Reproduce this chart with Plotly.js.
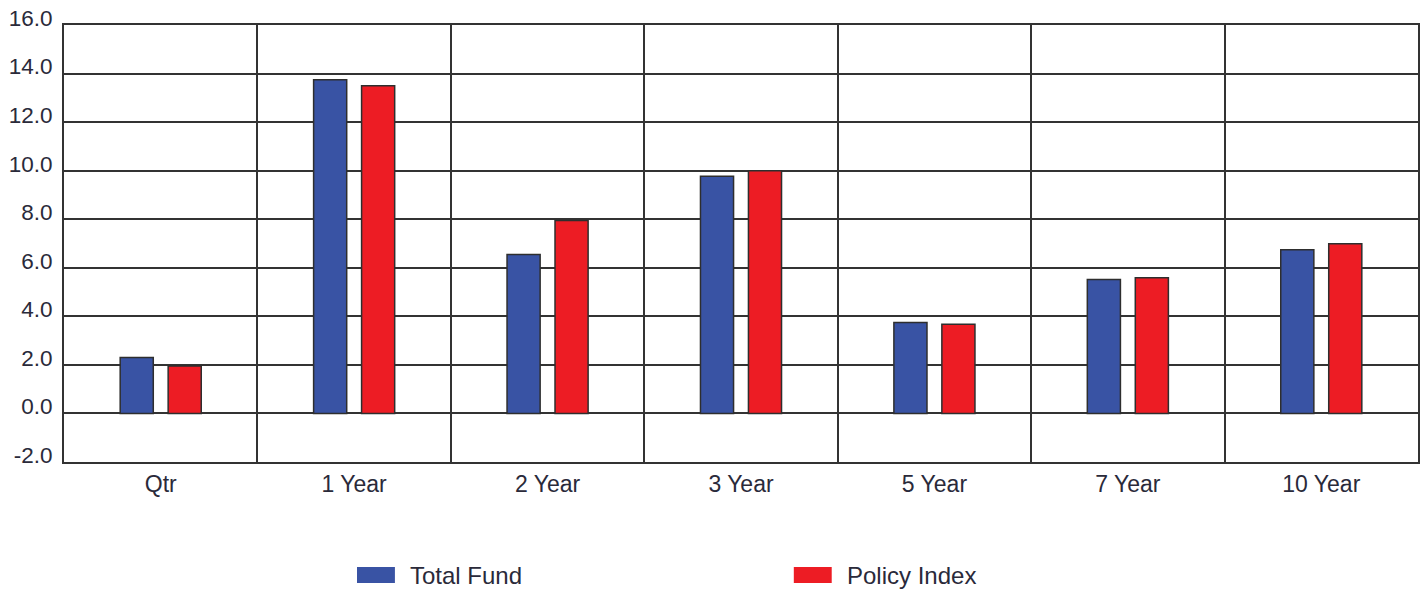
<!DOCTYPE html>
<html>
<head>
<meta charset="utf-8">
<script src="https://cdn.plot.ly/plotly-3.0.1.min.js"></script>
<style>html,body{margin:0;padding:0;background:#fff;}#chart{width:1425px;height:592px;}</style>
</head>
<body>
<div id="chart"></div>
<script>
const categories = ["Qtr", "1 Year", "2 Year", "3 Year", "5 Year", "7 Year", "10 Year"];
const seriesNames = ["Total Fund", "Policy Index"];
const totalFund = [2.3, 13.75, 6.55, 9.77, 3.75, 5.52, 6.74];
const policyIndex = [1.95, 13.5, 7.95, 10.0, 3.67, 5.59, 6.99];
const seriesColors = ["#3953a4", "#ed1c24"];
const yTickVals = [-2, 0, 2, 4, 6, 8, 10, 12, 14, 16];
const yTickText = yTickVals.map(v => v.toFixed(1));

const outline = {color: "#2e2e2e", width: 1.5};
const traces = [
  {type: "bar", x: categories, y: totalFund, name: seriesNames[0],
   marker: {color: seriesColors[0], line: outline}, showlegend: false},
  {type: "bar", x: categories, y: policyIndex, name: seriesNames[1],
   marker: {color: seriesColors[1], line: outline}, showlegend: false}
];

const fam = "Liberation Sans, Arial, sans-serif";
const txtColor = "#2a2a3a";
const xFont = {family: fam, size: 23, color: txtColor};
const yFont = {family: fam, size: 22.5, color: txtColor};
const legFont = {family: fam, size: 24, color: txtColor};

// legend drawn as swatches + labels in paper coordinates
const legendX = [0.2164, 0.539];
const shapes = [];
const annotations = [];
seriesNames.forEach((n, i) => {
  shapes.push({type: "rect", xref: "paper", yref: "paper",
    x0: legendX[i], x1: legendX[i] + 0.028, y0: -0.277, y1: -0.240,
    fillcolor: seriesColors[i], line: {width: 0}});
  annotations.push({xref: "paper", yref: "paper", x: legendX[i] + 0.038, y: -0.259,
    text: n, showarrow: false, xanchor: "left", yanchor: "middle", font: legFont});
});

const layout = {
  width: 1425, height: 592,
  margin: {l: 64, r: 7, t: 25, b: 130},
  paper_bgcolor: "#ffffff", plot_bgcolor: "#ffffff",
  barmode: "group", bargap: 0.504, bargroupgap: 0.31,
  font: xFont,
  xaxis: {type: "category", tickson: "boundaries", showgrid: true,
    gridcolor: "#333333", gridwidth: 2, ticks: "", showline: true, mirror: true,
    linecolor: "#333333", linewidth: 2, tickfont: xFont, ticklabelstandoff: 0,
    fixedrange: true},
  yaxis: {range: [-2, 16], tickvals: yTickVals, ticktext: yTickText, showgrid: true,
    gridcolor: "#333333", gridwidth: 2, zeroline: false, ticks: "",
    showline: true, mirror: true, linecolor: "#333333", linewidth: 2,
    tickfont: yFont, ticklabelshift: -7, ticklabelstandoff: 5, fixedrange: true},
  shapes: shapes, annotations: annotations, showlegend: false
};

Plotly.newPlot("chart", traces, layout, {displayModeBar: false, staticPlot: true});
</script>
</body>
</html>
